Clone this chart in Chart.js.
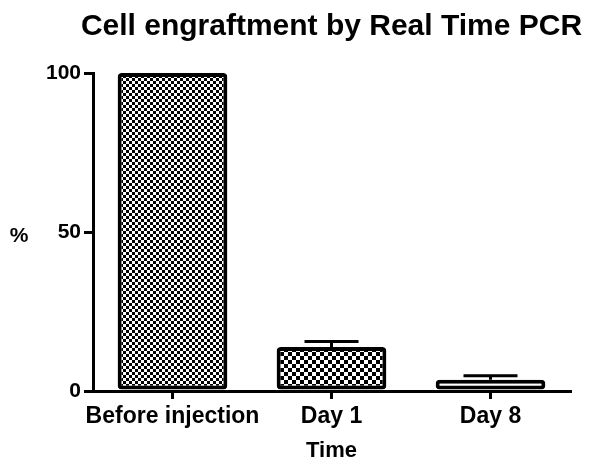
<!DOCTYPE html>
<html>
<head>
<meta charset="utf-8">
<script src="https://cdn.jsdelivr.net/npm/chart.js@4/dist/chart.umd.min.js"></script>
<style>
    body { margin: 0; background: #fff; }
    #wrap { width: 600px; height: 467px; position: relative; }
</style>
</head>
<body>
<div id="wrap"><canvas id="pcrChart"></canvas></div>
<script>
// Data
const categories = ['Before injection', 'Day 1', 'Day 8'];
const percentValues = [100, 13.8, 3.5];
const errorValues = [0, 1.8, 1.3];
const yTicks = [0, 50, 100];

const FONT = "'Liberation Sans', Arial, sans-serif";
const TITLE = 'Cell engraftment by Real Time PCR';

// Checkerboard fill like the original hatching
function checker(size) {
    const c = document.createElement('canvas');
    c.width = size * 2;
    c.height = size * 2;
    const g = c.getContext('2d');
    g.fillStyle = '#fff';
    g.fillRect(0, 0, size * 2, size * 2);
    g.fillStyle = '#000';
    g.fillRect(0, 0, size, size);
    g.fillRect(size, size, size, size);
    return g.createPattern(c, 'repeat');
}

const fills = [checker(3), checker(4), '#ffffff'];

// Upper error bars with caps
const errorBars = {
    id: 'errorBars',
    afterDatasetsDraw(chart) {
        const ctx = chart.ctx;
        const y = chart.scales.y;
        const meta = chart.getDatasetMeta(0);
        ctx.save();
        ctx.strokeStyle = '#000';
        ctx.lineWidth = 3;
        meta.data.forEach((bar, i) => {
            if (!errorValues[i]) return;
            const top = y.getPixelForValue(percentValues[i] + errorValues[i]);
            const base = y.getPixelForValue(percentValues[i]);
            const half = 27;
            ctx.beginPath();
            ctx.moveTo(bar.x, base);
            ctx.lineTo(bar.x, top);
            ctx.moveTo(bar.x - half, top);
            ctx.lineTo(bar.x + half, top);
            ctx.stroke();
        });
        ctx.restore();
    }
};

// Title centred over the plot area, and the unrotated "%" label
const labels = {
    id: 'labels',
    afterDraw(chart) {
        const ctx = chart.ctx;
        const area = chart.chartArea;
        ctx.save();
        ctx.fillStyle = '#000';
        ctx.textAlign = 'center';
        ctx.textBaseline = 'middle';
        ctx.font = 'bold 30px ' + FONT;
        ctx.fillText(TITLE, (area.left + area.right) / 2, 27);
        ctx.font = 'bold 21px ' + FONT;
        ctx.fillText('%', 19, (area.top + area.bottom) / 2 + 4);
        ctx.restore();
    }
};

new Chart(document.getElementById('pcrChart'), {
    type: 'bar',
    data: {
        labels: categories,
        datasets: [{
            data: percentValues,
            backgroundColor: fills,
            borderColor: '#000',
            borderWidth: 4,
            borderRadius: 4,
            borderSkipped: false,
            barPercentage: 0.69,
            categoryPercentage: 1
        }]
    },
    options: {
        responsive: true,
        maintainAspectRatio: false,
        animation: false,
        layout: { padding: { left: 0, right: 30, top: 73, bottom: 0 } },
        plugins: {
            legend: { display: false },
            tooltip: { enabled: false },
            title: { display: false }
        },
        scales: {
            x: {
                grid: {
                    offset: false,
                    drawOnChartArea: false,
                    drawTicks: true,
                    tickLength: 8,
                    lineWidth: 3,
                    color: '#000'
                },
                border: { display: true, color: '#000', width: 3 },
                ticks: {
                    color: '#000',
                    padding: 4,
                    maxRotation: 0,
                    autoSkip: false,
                    font: { family: FONT, size: 23, weight: 'bold' }
                },
                title: {
                    display: true,
                    text: 'Time',
                    color: '#000',
                    font: { family: FONT, size: 22, weight: 'bold' },
                    padding: { top: 0, bottom: 3 }
                },
                afterFit(scale) {
                    scale.height = 76;
                    scale.paddingLeft = 0;
                    scale.paddingRight = 0;
                }
            },
            y: {
                min: 0,
                max: 100,
                afterBuildTicks(scale) {
                    scale.ticks = yTicks.map(v => ({ value: v }));
                },
                grid: {
                    drawOnChartArea: false,
                    drawTicks: true,
                    tickLength: 9,
                    lineWidth: 3,
                    color: '#000'
                },
                border: { display: true, color: '#000', width: 3 },
                ticks: {
                    color: '#000',
                    padding: 3,
                    font: { family: FONT, size: 21, weight: 'bold' }
                },
                afterFit(scale) {
                    scale.width = 93;
                    scale.paddingTop = 0;
                    scale.paddingBottom = 0;
                }
            }
        }
    },
    plugins: [errorBars, labels]
});
</script>
</body>
</html>
